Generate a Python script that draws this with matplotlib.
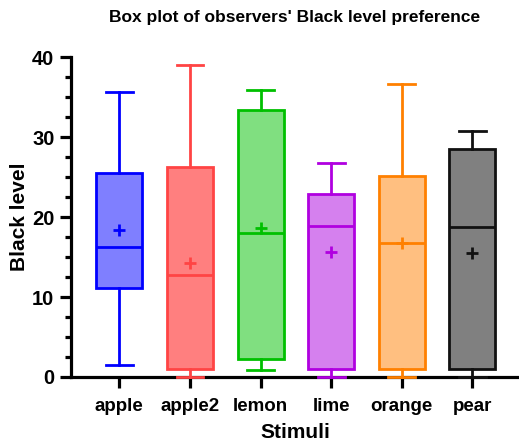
import matplotlib
matplotlib.use('Agg')
import matplotlib.pyplot as plt
from matplotlib.ticker import MultipleLocator

plt.rcParams['font.family'] = ['Liberation Sans', 'DejaVu Sans']
plt.rcParams['font.weight'] = 'bold'

# values (min, Q1, median, Q3, max, mean)
stimuli = ['apple', 'apple2', 'lemon', 'lime', 'orange', 'pear']
lows = [1.5, 0.0, 0.9, 0.0, 0.0, 0.0]
q1s = [11.1, 1.0, 2.3, 1.0, 1.0, 1.0]
medians = [16.2, 12.7, 18.0, 18.9, 16.8, 18.7]
q3s = [25.5, 26.2, 33.4, 22.9, 25.1, 28.5]
highs = [35.6, 39.0, 35.9, 26.8, 36.7, 30.8]
means = [18.4, 14.3, 18.6, 15.6, 16.8, 15.5]

fills = ['#7f7fff', '#ff7f7f', '#80df80', '#d580ee', '#ffbf80', '#808080']
edges = ['#0000ff', '#ff4444', '#00c000', '#b000e0', '#ff8000', '#111111']

fig = plt.figure(figsize=(5.19, 4.43), dpi=100)
ax = fig.add_axes([0.137, 0.149, 0.863, 0.722])

for i in range(len(stimuli)):
    st = [{'whislo': lows[i], 'q1': q1s[i], 'med': medians[i], 'q3': q3s[i],
           'whishi': highs[i], 'mean': means[i], 'label': stimuli[i], 'fliers': []}]
    ec = edges[i]
    art = ax.bxp(st, positions=[i], widths=0.65, capwidths=0.38, patch_artist=True,
                 showmeans=True, showfliers=False,
                 boxprops=dict(facecolor=fills[i], edgecolor=ec, linewidth=2),
                 medianprops=dict(color=ec, linewidth=2),
                 whiskerprops=dict(color=ec, linewidth=2),
                 capprops=dict(color=ec, linewidth=2),
                 meanprops=dict(marker='+', markeredgecolor=ec, markersize=8, markeredgewidth=2))
    for k in art:
        for a in art[k]:
            a.set_clip_on(False)
            a.set_zorder(3)

ax.set_xlim(-0.683, 5.66)
ax.set_ylim(0, 40)
ax.set_xticks(range(len(stimuli)))
ax.set_xticklabels(stimuli)
ax.yaxis.set_major_locator(MultipleLocator(10))
ax.yaxis.set_minor_locator(MultipleLocator(2.5))

for s in ['top', 'right']:
    ax.spines[s].set_visible(False)
for s in ['left', 'bottom']:
    ax.spines[s].set_linewidth(2.3)

ax.tick_params(axis='both', which='major', length=8, width=2.3, pad=4)
ax.tick_params(axis='y', which='minor', length=4, width=2.3)
ax.tick_params(axis='x', labelsize=13.5, pad=7)
ax.tick_params(axis='y', labelsize=14.5)

ax.set_ylabel('Black level', fontsize=15, fontweight='bold', labelpad=2)
ax.set_xlabel('Stimuli', fontsize=15, fontweight='bold', labelpad=6)
ax.set_title("Box plot of observers' Black level preference", fontsize=12.5,
             fontweight='bold', pad=25)

fig.savefig('out.png', dpi=100)
